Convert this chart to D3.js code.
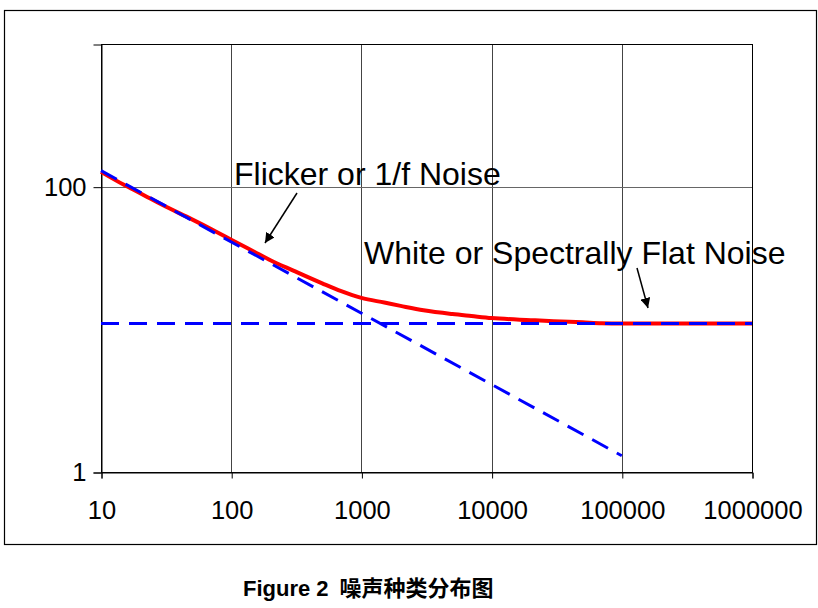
<!DOCTYPE html>
<html>
<head>
<meta charset="utf-8">
<script src="https://cdn.jsdelivr.net/npm/d3@7"></script>
<style>
  html, body { margin: 0; padding: 0; background: #fff; }
  svg { display: block; }
  text { font-family: "Liberation Sans", Arial, sans-serif; }
</style>
</head>
<body>
<svg id="chart" width="818" height="608"></svg>
<script>
// ---- data ----
const xTicks = [10, 100, 1000, 10000, 100000, 1000000];
const xTickLabels = ["10", "100", "1000", "10000", "100000", "1000000"];
const yTicks = [1, 100];
const yTickLabels = ["1", "100"];

// total noise (red)
const totalFreq = [10, 15, 20, 30, 50, 70, 100, 150, 200, 300, 500, 700, 1000, 1500, 2000, 3000, 5000, 7000, 10000, 20000, 30000, 50000, 70000, 100000, 1000000];
const totalNoise = [127, 103, 90, 74, 59, 50.5, 42.5, 35, 30.5, 25.8, 21, 18.5, 16.6, 15.4, 14.6, 13.6, 12.8, 12.4, 12.0, 11.6, 11.4, 11.2, 11.05, 11.0, 11.0];

// flicker (1/f) noise asymptote (blue dashed)
const flickerFreq = [10, 100000];
const flickerNoise = [129.5, 1.3];

// white noise floor (blue dashed)
const whiteFreq = [10, 1000000];
const whiteNoise = [11, 11];

const annotations = [
  { text: "Flicker or 1/f Noise", x: 234, y: 185, from: [297, 193], to: [265, 243] },
  { text: "White or Spectrally Flat Noise", x: 364, y: 264, from: [637, 268], to: [648, 308] }
];

// ---- drawing ----
const svg = d3.select("#chart");
const plot = { left: 101, right: 752, top: 44, bottom: 472 };

const x = d3.scaleLog().domain([10, 1000000]).range([plot.left, plot.right]);
const y = d3.scaleLog().domain([1, 1000]).range([plot.bottom, plot.top]);

// outer frame
svg.append("rect")
  .attr("x", 4.5).attr("y", 10.5)
  .attr("width", 812).attr("height", 534)
  .attr("fill", "none").attr("stroke", "#000").attr("stroke-width", 1.2);

// vertical gridlines
svg.append("g").selectAll("line").data(xTicks.slice(1, -1)).join("line")
  .attr("x1", d => Math.round(x(d)) + 0.5).attr("x2", d => Math.round(x(d)) + 0.5)
  .attr("y1", plot.top).attr("y2", plot.bottom)
  .attr("stroke", "#444").attr("stroke-width", 1);

// horizontal gridline at 100
svg.append("g").selectAll("line").data(yTicks.slice(1)).join("line")
  .attr("x1", plot.left).attr("x2", plot.right)
  .attr("y1", d => Math.round(y(d)) + 0.5).attr("y2", d => Math.round(y(d)) + 0.5)
  .attr("stroke", "#666").attr("stroke-width", 1);

// plot border
svg.append("rect")
  .attr("x", plot.left + 0.5).attr("y", plot.top + 0.5)
  .attr("width", plot.right - plot.left).attr("height", plot.bottom - plot.top)
  .attr("fill", "none").attr("stroke", "#000").attr("stroke-width", 1);

// x axis
const xAxis = d3.axisBottom(x)
  .tickValues(xTicks)
  .tickFormat((d, i) => xTickLabels[i])
  .tickSize(6).tickPadding(22);
const gx = svg.append("g").attr("transform", `translate(0.5,${plot.bottom + 0.5})`).call(xAxis);
gx.select(".domain").attr("stroke", "#000");
gx.selectAll(".tick line").attr("stroke", "#000");
gx.selectAll("text").attr("font-size", 25.5).attr("fill", "#000")
  .attr("font-family", "'Liberation Sans', Arial, sans-serif");

// y axis
const yAxis = d3.axisLeft(y)
  .tickValues(yTicks)
  .tickFormat((d, i) => yTickLabels[i])
  .tickSize(8).tickPadding(7);
const gy = svg.append("g").attr("transform", `translate(${plot.left + 0.5},0.5)`).call(yAxis);
gy.select(".domain").attr("stroke", "#000");
gy.selectAll(".tick line").attr("stroke", "#000");
gy.selectAll("text").attr("font-size", 25.5).attr("fill", "#000")
  .attr("font-family", "'Liberation Sans', Arial, sans-serif");

const line = d3.line().x(d => x(d[0])).y(d => y(d[1])).curve(d3.curveMonotoneX);

// red total noise
svg.append("path")
  .datum(d3.zip(totalFreq, totalNoise))
  .attr("d", line)
  .attr("fill", "none").attr("stroke", "#ff0000").attr("stroke-width", 4)
  .attr("stroke-linejoin", "round");

const straight = d3.line().x(d => x(d[0])).y(d => y(d[1]));
// blue dashed lines
[[flickerFreq, flickerNoise], [whiteFreq, whiteNoise]].forEach(([f, v]) => {
  svg.append("path")
    .datum(d3.zip(f, v))
    .attr("d", straight)
    .attr("fill", "none").attr("stroke", "#0000ff").attr("stroke-width", 3)
    .attr("stroke-dasharray", "18,10");
});

// annotations
svg.append("defs").append("marker")
  .attr("id", "arrow").attr("viewBox", "0 0 10 10")
  .attr("refX", 10).attr("refY", 5)
  .attr("markerWidth", 10).attr("markerHeight", 10)
  .attr("markerUnits", "userSpaceOnUse")
  .attr("orient", "auto")
  .append("path").attr("d", "M0,0 L10,5 L0,10 Z").attr("fill", "#000");

annotations.forEach(a => {
  svg.append("text").attr("x", a.x).attr("y", a.y)
    .attr("font-size", 32).attr("fill", "#000").text(a.text);
  svg.append("line")
    .attr("x1", a.from[0]).attr("y1", a.from[1])
    .attr("x2", a.to[0]).attr("y2", a.to[1])
    .attr("stroke", "#000").attr("stroke-width", 1.5)
    .attr("marker-end", "url(#arrow)");
});

// caption
const cap = svg.append("text").attr("x", 243).attr("y", 596)
  .attr("font-weight", "bold").attr("font-size", 22).attr("fill", "#000");
cap.append("tspan").text("Figure 2");
cap.append("tspan").attr("dx", 11)
  .attr("font-family", "'Noto Sans CJK SC', sans-serif").attr("font-size", 22)
  .text("噪声种类分布图");
</script>
</body>
</html>
